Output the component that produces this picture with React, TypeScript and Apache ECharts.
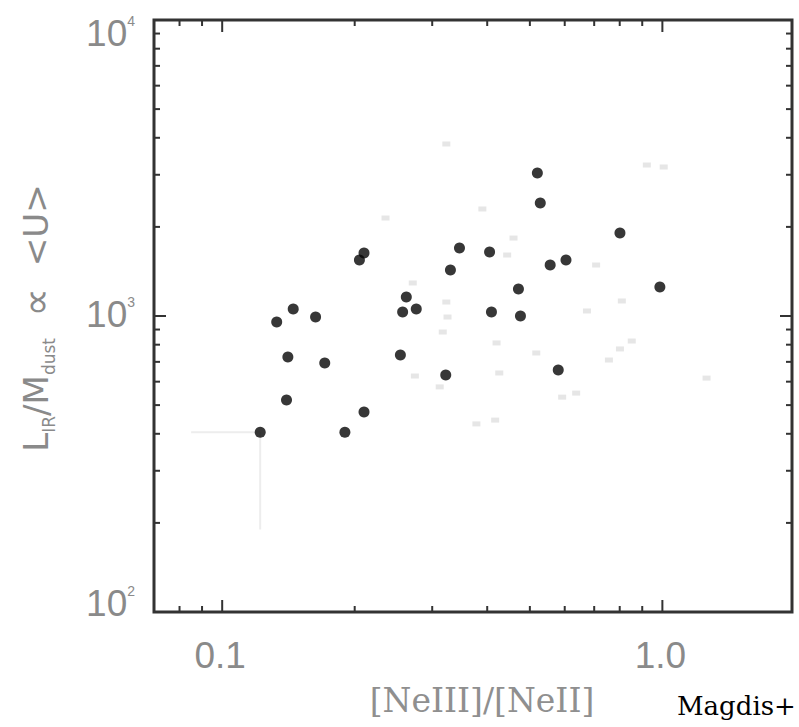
import React, { useEffect, useRef } from 'react';
import * as echarts from 'echarts';

// Axis extents (log scales)
const X_MIN = 0.07;
const X_MAX = 1.97;
const Y_MIN = 100;
const Y_MAX = 10000;

// Main sample: [NeIII]/[NeII] ratio and L_IR/M_dust
const sampleRatio = [
  0.122, 0.133, 0.145, 0.141, 0.140, 0.163, 0.171, 0.190, 0.205, 0.210,
  0.210, 0.254, 0.257, 0.262, 0.276, 0.322, 0.330, 0.346, 0.405, 0.409,
  0.471, 0.476, 0.520, 0.528, 0.556, 0.580, 0.604, 0.801, 0.987,
];
const sampleU = [
  405, 955, 1056, 727, 520, 992, 694, 405, 1546, 1633,
  474, 738, 1032, 1159, 1056, 632, 1430, 1697, 1645, 1032,
  1234, 1000, 3041, 2409, 1487, 657, 1546, 1907, 1253,
];

// Comparison sample (faint points)
const compRatio = [
  0.323, 0.390, 0.459, 0.235, 0.922, 1.007, 0.707, 0.674, 0.809, 0.323,
  0.325, 0.317, 0.420, 0.517, 0.274, 0.426, 0.312, 0.378, 0.417, 0.592,
  0.637, 0.852, 0.801, 0.756, 1.260, 0.271, 0.444,
];
const compU = [
  3812, 2299, 1834, 2143, 3237, 3187, 1487, 1040, 1124, 1115,
  992, 883, 811, 750, 627, 642, 576, 432, 445, 532,
  549, 823, 774, 710, 617, 1293, 1607,
];

// Error bar on the lowest-ratio source (lower ends of the bars)
const errRatio = [0.122];
const errU = [405];
const errRatioLow = [0.085];
const errULow = [190];

// Ticks and labels
const xMajorTicks = [0.1, 1.0];
const xTickLabels = ['0.1', '1.0'];
const xMinorTicks = [0.08, 0.09, 0.2, 0.3, 0.4, 0.5, 0.6, 0.7, 0.8, 0.9];
const yMajorTicks = [100, 1000, 10000];
const yTickExponents = ['2', '3', '4'];
const yMinorTicks = [200, 300, 400, 500, 600, 700, 800, 900, 2000, 3000, 4000, 5000, 6000, 7000, 8000, 9000];

const AXIS_COLOR = '#333333';
const LABEL_COLOR = '#8a8a8a';
const LABEL_FONT = 'Liberation Sans, Arial, sans-serif';

export default function App() {
  const ref = useRef<HTMLDivElement>(null);

  useEffect(() => {
    if (!ref.current) return;
    const chart = echarts.init(ref.current, undefined, { renderer: 'svg' });

    const xTickData = xMajorTicks
      .map((v, i) => [v, Y_MIN, 1, i])
      .concat(xMinorTicks.map((v) => [v, Y_MIN, 0, -1]));
    const yTickData = yMajorTicks
      .map((v, i) => [X_MIN, v, 1, i])
      .concat(yMinorTicks.map((v) => [X_MIN, v, 0, -1]));

    const option: any = {
      animation: false,
      backgroundColor: '#ffffff',
      grid: {
        left: 154,
        right: 7,
        top: 20,
        bottom: 115,
        show: true,
        borderColor: AXIS_COLOR,
        borderWidth: 3,
        backgroundColor: 'transparent',
      },
      xAxis: {
        type: 'log',
        logBase: 10,
        min: X_MIN,
        max: X_MAX,
        axisLine: { show: false },
        axisTick: { show: false },
        axisLabel: { show: false },
        splitLine: { show: false },
        minorSplitLine: { show: false },
      },
      yAxis: {
        type: 'log',
        logBase: 10,
        min: Y_MIN,
        max: Y_MAX,
        axisLine: { show: false },
        axisTick: { show: false },
        axisLabel: { show: false },
        splitLine: { show: false },
        minorSplitLine: { show: false },
      },
      graphic: [
        {
          type: 'text',
          x: 482,
          y: 700,
          style: {
            text: '[NeIII]/[NeII]',
            font: '33px "DejaVu Serif", serif',
            fill: '#8f8f8f',
            align: 'center',
            verticalAlign: 'middle',
          },
        },
        {
          type: 'text',
          x: 36,
          y: 318,
          rotation: Math.PI / 2,
          style: {
            text: '{m|L}{s|IR}{m|/M}{s|dust}{m|  }{p|\u221D}{m|  <U>}',
            align: 'center',
            verticalAlign: 'middle',
            rich: {
              m: { font: '34px "DejaVu Sans", sans-serif', fill: LABEL_COLOR, lineHeight: 42 },
              p: { font: '40px "DejaVu Sans", sans-serif', fill: LABEL_COLOR, lineHeight: 42 },
              s: { font: '17px "DejaVu Sans", sans-serif', fill: LABEL_COLOR, lineHeight: 18, verticalAlign: 'bottom' },
            },
          },
        },
        {
          type: 'text',
          x: 677,
          y: 706,
          style: {
            text: 'Magdis+',
            font: '26px "DejaVu Serif", serif',
            fill: '#000000',
            align: 'left',
            verticalAlign: 'middle',
          },
        },
      ],
      series: [
        {
          name: 'errors',
          type: 'custom',
          clip: false,
          z: 1,
          data: errRatio.map((x, i) => [x, errU[i], errRatioLow[i], errULow[i]]),
          renderItem: (_params: any, api: any) => {
            const p = api.coord([api.value(0), api.value(1)]);
            const pl = api.coord([api.value(2), api.value(1)]);
            const pd = api.coord([api.value(0), api.value(3)]);
            const st = { stroke: '#ededed', lineWidth: 2 };
            return {
              type: 'group',
              children: [
                { type: 'line', shape: { x1: pl[0], y1: pl[1], x2: p[0], y2: p[1] }, style: st },
                { type: 'line', shape: { x1: pd[0], y1: pd[1], x2: p[0], y2: p[1] }, style: st },
              ],
            };
          },
        },
        {
          name: 'comparison',
          type: 'scatter',
          z: 2,
          symbol: 'rect',
          symbolSize: [8, 5],
          itemStyle: { color: '#e0e0e0' },
          data: compRatio.map((x, i) => [x, compU[i]]),
        },
        {
          name: 'sample',
          type: 'scatter',
          z: 3,
          symbol: 'circle',
          symbolSize: 11,
          itemStyle: { color: '#050505' },
          data: sampleRatio.map((x, i) => [x, sampleU[i]]),
        },
        {
          name: 'xTicks',
          type: 'custom',
          clip: false,
          z: 4,
          data: xTickData,
          renderItem: (_params: any, api: any) => {
            const v = api.value(0);
            const major = api.value(2) === 1;
            const b = api.coord([v, Y_MIN]);
            const t = api.coord([v, Y_MAX]);
            const len = major ? 12 : 6;
            const st = { stroke: AXIS_COLOR, lineWidth: 2 };
            const children: any[] = [
              { type: 'line', shape: { x1: b[0], y1: b[1], x2: b[0], y2: b[1] - len }, style: st },
              { type: 'line', shape: { x1: t[0], y1: t[1], x2: t[0], y2: t[1] + len }, style: st },
            ];
            if (major) {
              children.push({
                type: 'text',
                x: b[0] - 2,
                y: b[1] + 43,
                style: {
                  text: xTickLabels[api.value(3)],
                  font: '37px ' + LABEL_FONT,
                  fill: LABEL_COLOR,
                  align: 'center',
                  verticalAlign: 'middle',
                },
              });
            }
            return { type: 'group', children };
          },
        },
        {
          name: 'yTicks',
          type: 'custom',
          clip: false,
          z: 4,
          data: yTickData,
          renderItem: (_params: any, api: any) => {
            const v = api.value(1);
            const major = api.value(2) === 1;
            const l = api.coord([X_MIN, v]);
            const r = api.coord([X_MAX, v]);
            const len = major ? 12 : 6;
            const st = { stroke: AXIS_COLOR, lineWidth: 2 };
            const children: any[] = [
              { type: 'line', shape: { x1: l[0], y1: l[1], x2: l[0] + len, y2: l[1] }, style: st },
              { type: 'line', shape: { x1: r[0], y1: r[1], x2: r[0] - len, y2: r[1] }, style: st },
            ];
            if (major) {
              const shift = v >= Y_MAX ? 13 : v <= Y_MIN ? -9 : -2;
              children.push({
                type: 'text',
                x: l[0] - 19,
                y: l[1] + shift,
                style: {
                  text: '{b|10}{e|' + yTickExponents[api.value(3)] + '}',
                  align: 'right',
                  verticalAlign: 'middle',
                  rich: {
                    b: { font: '37px ' + LABEL_FONT, fill: LABEL_COLOR, lineHeight: 38 },
                    e: { font: '14px ' + LABEL_FONT, fill: LABEL_COLOR, lineHeight: 16, verticalAlign: 'top' },
                  },
                },
              });
            }
            return { type: 'group', children };
          },
        },
      ],
    };

    chart.setOption(option);
    return () => chart.dispose();
  }, []);

  return (
    <div
      ref={ref}
      style={{ position: 'fixed', left: 0, top: 0, width: 799, height: 727, background: '#ffffff' }}
    />
  );
}
